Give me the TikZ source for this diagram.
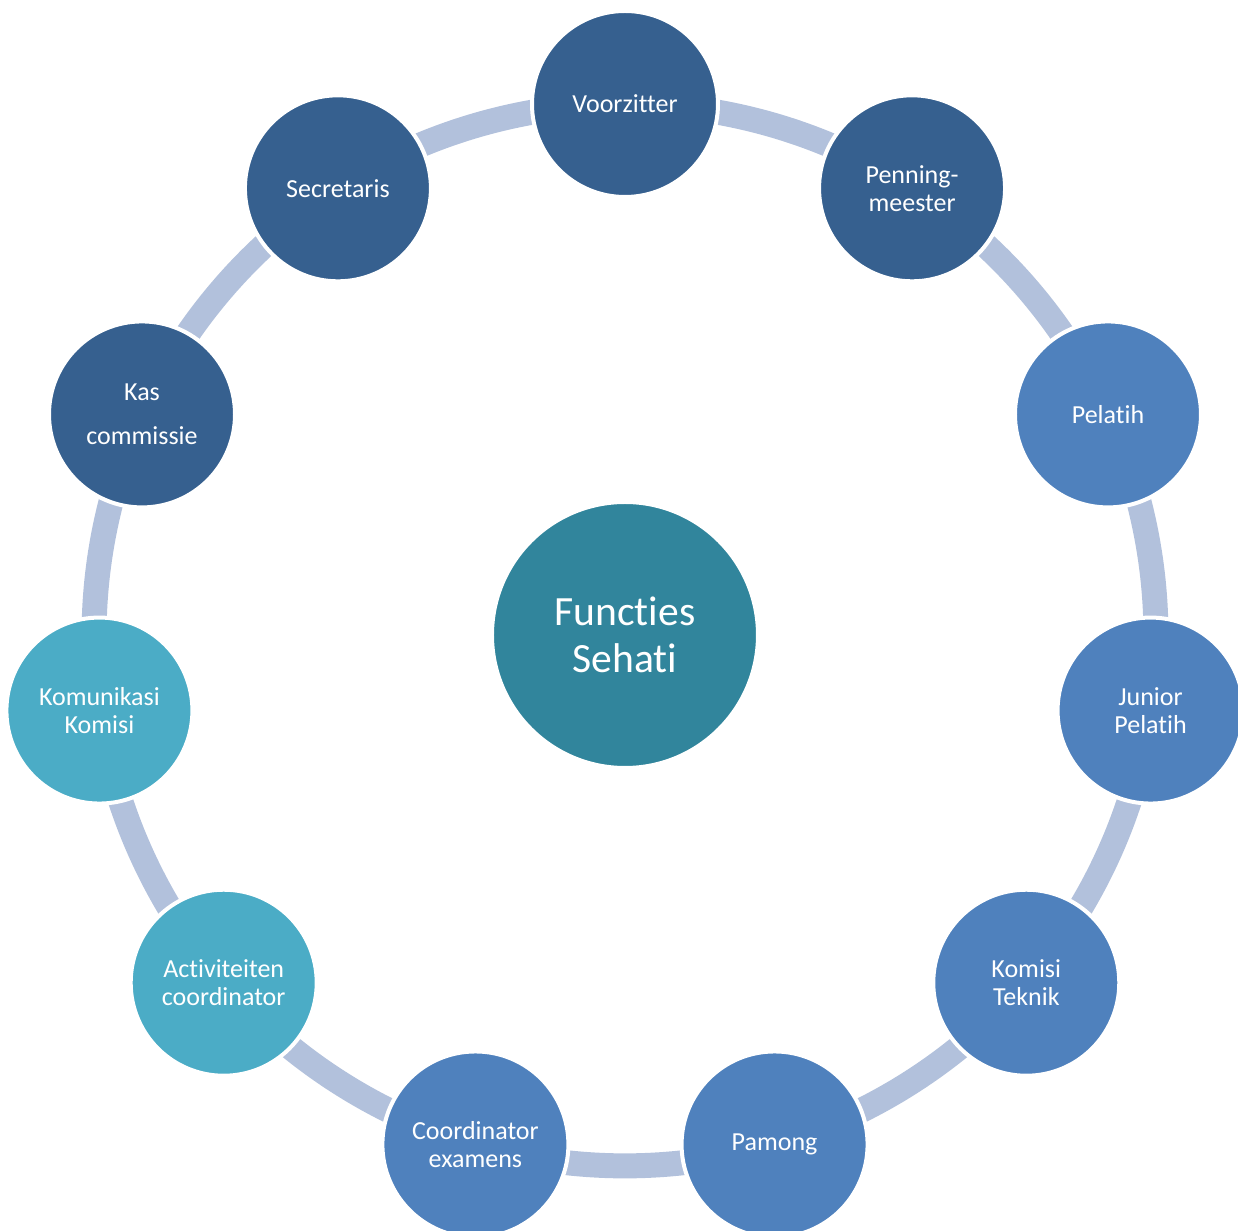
\documentclass[tikz,border=0pt]{standalone}
\usepackage{fontspec}
\setmainfont{Carlito}[Ligatures=NoCommon]
\usetikzlibrary{backgrounds}
\definecolor{roledark}{HTML}{36608F}
\definecolor{rolemid}{HTML}{4F81BD}
\definecolor{rolelight}{HTML}{4BACC6}
\definecolor{hubfill}{HTML}{31859C}
\definecolor{ringline}{HTML}{B2C1DC}
\begin{document}
\begin{tikzpicture}[
  role/.style={circle, draw=white, line width=2pt, minimum size=93pt, inner sep=0pt,
    text=white, align=center, font=\fontsize{13}{14}\selectfont},
  dark/.style={role, fill=roledark},
  mid/.style={role, fill=rolemid},
  light/.style={role, fill=rolelight},
  hub/.style={circle, draw=white, line width=2pt, minimum size=133pt, inner sep=0pt,
    fill=hubfill, text=white, align=center, font=\fontsize{20.8}{23.4}\selectfont},
  ringarc/.style={draw=ringline, line width=12.5pt, line cap=butt}
]
\useasboundingbox (-312.5pt,-298pt) rectangle (306.5pt,317.5pt);

\def\R{265.5pt}
\def\stepang{32.7273}

% centre
\node[hub] (hub) at (0,0) {Functies\\Sehati};

% roles around the ring, clockwise from the top
\node[dark]  (n0)  at ({90-0*\stepang}:\R)  {Voorzitter};
\node[dark]  (n1)  at ({90-1*\stepang}:\R)  {Penning-\\meester};
\node[mid]   (n2)  at ({90-2*\stepang}:\R)  {Pelatih};
\node[mid]   (n3)  at ({90-3*\stepang}:\R)  {Junior\\Pelatih};
\node[mid]   (n4)  at ({90-4*\stepang}:\R)  {Komisi\\Teknik};
\node[mid]   (n5)  at ({90-5*\stepang}:\R)  {Pamong};
\node[mid]   (n6)  at ({90-6*\stepang}:\R)  {Coordinator\\examens};
\node[light] (n7)  at ({90-7*\stepang}:\R)  {Activiteiten\\coordinator};
\node[light] (n8)  at ({90-8*\stepang}:\R)  {Komunikasi\\Komisi};
\node[dark]  (n9)  at ({90-9*\stepang}:\R)  {Kas\\[8pt]commissie};
\node[dark]  (n10) at ({90-10*\stepang}:\R) {Secretaris};

% ring segments between neighbouring roles
\begin{scope}[on background layer]
  \foreach \a/\b in {n0/n1,n1/n2,n2/n3,n3/n4,n4/n5,n5/n6,n6/n7,n7/n8,n8/n9,n9/n10,n10/n0}
    \draw[ringarc] (\a.center) to[bend left=16.3636, looseness=0.869] (\b.center);
\end{scope}
\end{tikzpicture}
\end{document}
